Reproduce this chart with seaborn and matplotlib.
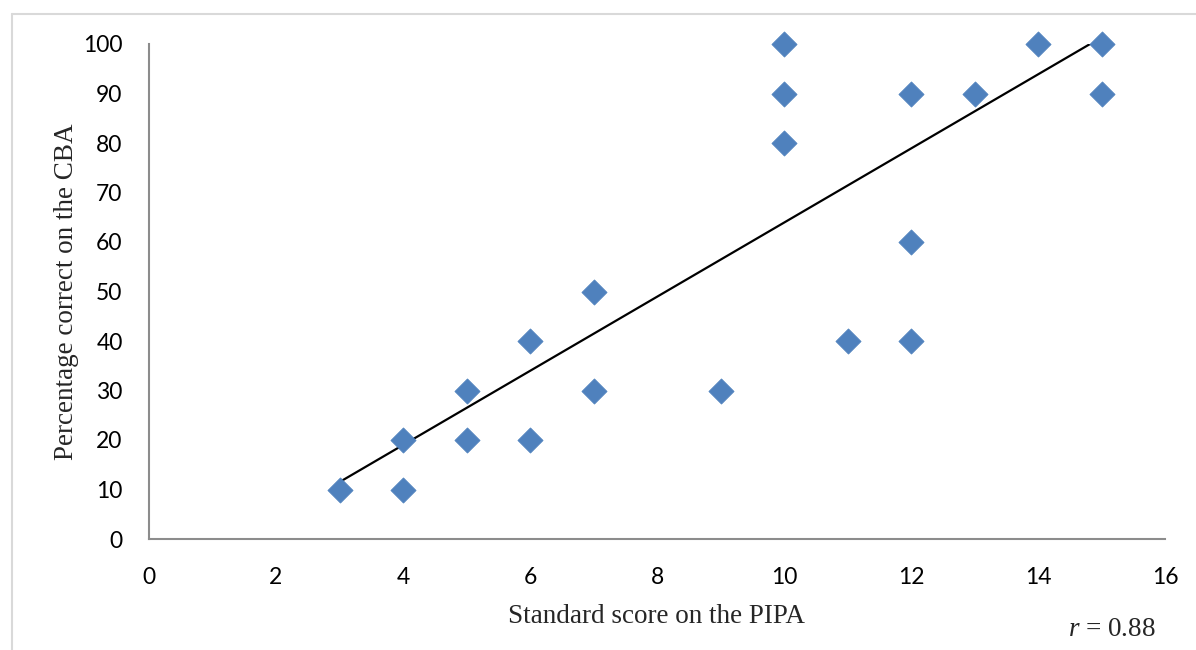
import matplotlib
matplotlib.use("Agg")
import matplotlib.pyplot as plt
from matplotlib.lines import Line2D
import seaborn as sns
import pandas as pd

# PIPA standard scores and CBA percentage-correct scores
pipa_scores = [3, 4, 4, 5, 5, 6, 6, 7, 7, 9, 10, 10, 10, 11, 12, 12, 12, 13, 14, 15, 15]
cba_scores = [10, 20, 10, 30, 20, 40, 20, 50, 30, 30, 100, 90, 80, 40, 90, 60, 40, 90, 100, 100, 90]

# Linear trend line end points
trend_x = [3, 14.82]
trend_y = [11.5, 100]

x_ticks = [0, 2, 4, 6, 8, 10, 12, 14, 16]
y_ticks = [0, 10, 20, 30, 40, 50, 60, 70, 80, 90, 100]

df = pd.DataFrame({"pipa": pipa_scores, "cba": cba_scores})

sns.set_theme(style="white")
plt.rcParams["font.family"] = ["Lato", "DejaVu Sans"]
plt.rcParams["mathtext.fontset"] = "custom"
plt.rcParams["mathtext.rm"] = "Liberation Serif"
plt.rcParams["mathtext.it"] = "Liberation Serif:italic"

W, H = 1196, 650
fig = plt.figure(figsize=(W / 100, H / 100), dpi=100)
ax = fig.add_axes([149 / W, 1 - 539 / H, (1165 - 149) / W, (539 - 44) / H])

ax.plot(trend_x, trend_y, color="black", linewidth=1.6, zorder=2)
sns.scatterplot(data=df, x="pipa", y="cba", marker="D", s=165,
                color="#4F81BD", edgecolor="#4F81BD", linewidth=0.5,
                ax=ax, zorder=3, clip_on=False)

ax.set_xlim(0, 16)
ax.set_ylim(0, 100)
ax.set_xticks(x_ticks)
ax.set_yticks(y_ticks)
ax.tick_params(axis="both", length=0, labelsize=16.5, colors="black")
ax.tick_params(axis="x", pad=20)
ax.tick_params(axis="y", pad=19)

for side in ("top", "right"):
    ax.spines[side].set_visible(False)
for side in ("left", "bottom"):
    ax.spines[side].set_color("#8C8C8C")
    ax.spines[side].set_linewidth(1.5)

serif = ["Liberation Serif", "DejaVu Serif"]
ax.set_xlabel("Standard score on the PIPA", family=serif, fontsize=19.5, labelpad=12)
ax.set_ylabel("Percentage correct on the CBA", family=serif, fontsize=19.5, labelpad=3)

fig.text(1156 / W, 1 - 630 / H, r"$r$ = 0.88", family=serif, fontsize=19.5,
         ha="right", va="center")

# Light chart-area frame
frame_color = "#D9D9D9"
fig.add_artist(Line2D([12 / W, 12 / W], [1 - 14 / H, 0], transform=fig.transFigure,
                      color=frame_color, linewidth=1.5))
fig.add_artist(Line2D([12 / W, 1], [1 - 14 / H, 1 - 14 / H], transform=fig.transFigure,
                      color=frame_color, linewidth=1.5))

fig.savefig("out.png", dpi=100)
